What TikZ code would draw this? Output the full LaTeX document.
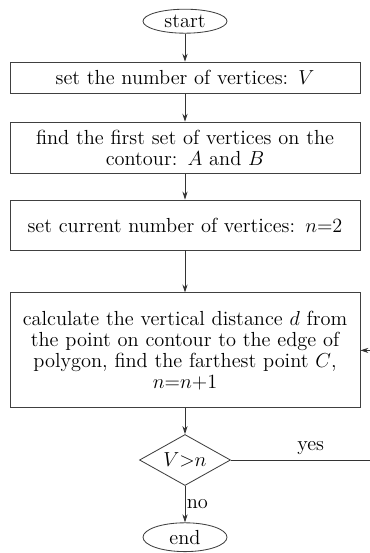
\documentclass[tikz,border=0pt]{standalone}
\usepackage{tikz}
\usetikzlibrary{arrows.meta,positioning,shapes.geometric}

\begin{document}
\begin{tikzpicture}[
  font=\fontsize{14.5}{14.8}\selectfont,
  terminal/.style={draw=black!75, ellipse, minimum width=2.1cm, minimum height=0.6cm, inner sep=0pt, line width=0.6pt},
  stepbox/.style={draw=black!75, rectangle, minimum width=8.75cm, text width=8.65cm, inner xsep=0.05cm, align=center, line width=0.6pt},
  decision/.style={draw=black!75, diamond, aspect=1.8, minimum width=2.275cm, minimum height=1.275cm, inner sep=0pt, line width=0.6pt},
  arrow/.style={-{Stealth[length=2mm,width=1.3mm]}, draw=black!80, line width=0.6pt}
]
\useasboundingbox (0,0) rectangle (9.25,-13.825);
\clip (0,0) rectangle (9.25,-13.825);

\node[terminal] (start) at (4.625,-0.53) {start};
\node[stepbox, minimum height=0.775cm] (setv) at (4.625,-1.94) {set the number of vertices: $V$};
\node[stepbox, minimum height=1.275cm] (findab) at (4.625,-3.69) {find the first set of vertices on the\\contour: $A$ and $B$};
\node[stepbox, minimum height=1.25cm] (setn) at (4.625,-5.625) {set current number of vertices: $n{=}2$};
\node[stepbox, minimum height=2.875cm] (calcd) at (4.625,-8.76) {calculate the vertical distance $d$ from\\the point on contour to the edge of\\polygon, find the farthest point $C$,\\$n{=}n{+}1$};
\node[decision] (check) at (4.625,-11.5) {$V{>}n$};
\node[terminal, minimum height=0.72cm] (finish) at (4.625,-13.43) {end};

\coordinate (loopr) at (9.4,-11.5);

\draw[arrow] (start) -- (setv);
\draw[arrow] (setv) -- (findab);
\draw[arrow] (findab) -- (setn);
\draw[arrow] (setn) -- (calcd);
\draw[arrow] (calcd) -- (check);
\draw[arrow] (check) -- node[right, inner sep=1pt] {no} (finish);
\draw[arrow] (check.east) -- node[above, pos=0.55] {yes} (loopr) |- (calcd.east);
\end{tikzpicture}
\end{document}
